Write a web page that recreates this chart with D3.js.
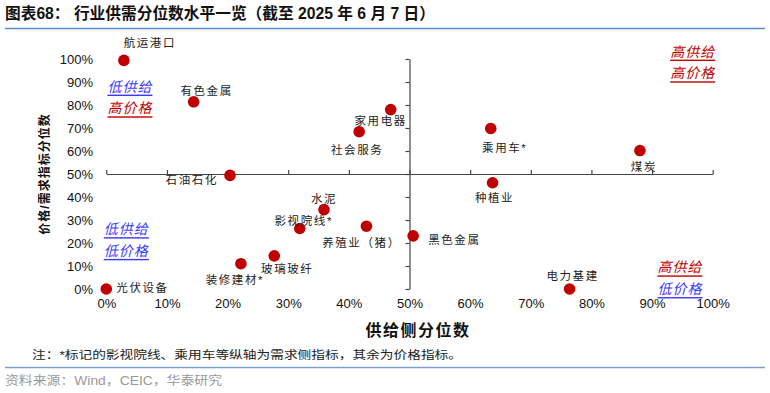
<!DOCTYPE html>
<html><head><meta charset="utf-8">
<script src="https://cdn.jsdelivr.net/npm/d3@7"></script>
<style>
body{margin:0;background:#fff;}
svg{display:block;}
text{font-family:"Liberation Sans","Noto Sans CJK SC",sans-serif;}
</style></head>
<body><svg id="c" width="770" height="393"></svg>
<script>
// ---- data ----
const industries = ["航运港口","有色金属","石油石化","光伏设备","装修建材*","玻璃玻纤","影视院线*","水泥","养殖业（猪）","黑色金属","家用电器","社会服务","乘用车*","种植业","煤炭","电力基建"];
const supplyPct  = [0.029,0.144,0.204,0.000,0.222,0.277,0.319,0.359,0.429,0.506,0.469,0.417,0.634,0.637,0.880,0.764];
const pricePct   = [0.994,0.814,0.494,0.000,0.110,0.144,0.263,0.345,0.273,0.231,0.780,0.684,0.698,0.462,0.602,0.000];
const tickValues = [0,0.1,0.2,0.3,0.4,0.5,0.6,0.7,0.8,0.9,1.0];
// label placement (layout only): [dx, dy, anchor]
const labelPlace = [[26,-17,"middle"],[13,-11,"middle"],[-12,5,"end"],[10,-1,"start"],[-6,16,"middle"],[13,13,"middle"],[4,-8,"middle"],[0,-11,"middle"],[-5,17,"middle"],[15,4,"start"],[-10,11,"middle"],[-2,18,"middle"],[14,20,"middle"],[2,15,"middle"],[4,16,"middle"],[3,-13,"middle"]];
const quadrants = [
  {x:0.039,y:0.880,lines:[["低供给","#3a3aff"],["高价格","#c00000"]]},
  {x:0.033,y:0.260,lines:[["低供给","#3a3aff"],["低价格","#3a3aff"]]},
  {x:0.967,y:1.032,lines:[["高供给","#c00000"],["高价格","#c00000"]]},
  {x:0.946,y:0.094,lines:[["高供给","#c00000"],["低价格","#3a3aff"]]}
];

const svg = d3.select("#c");
const x = d3.scaleLinear().domain([0,1]).range([106.3,712.7]);
const y = d3.scaleLinear().domain([0,1]).range([289,59]);
const pct = d3.format(".0%");

// title
svg.append("text").attr("x",5).attr("y",19).attr("font-size",16).attr("font-weight","bold")
  .attr("fill","#111").attr("textLength",430).attr("lengthAdjust","spacingAndGlyphs")
  .text("图表68：  行业供需分位数水平一览（截至 2025 年 6 月 7 日）");
svg.append("line").attr("x1",5).attr("x2",765).attr("y1",28.5).attr("y2",28.5)
  .attr("stroke","#5b8ccc").attr("stroke-width",1.5);

// crossing axes
const gV = svg.append("g").attr("transform",`translate(${x(0.5)},0)`)
  .call(d3.axisLeft(y).tickValues(tickValues).tickFormat("").tickSize(4).tickSizeOuter(0));
const gH = svg.append("g").attr("transform",`translate(0,${y(0.5)})`)
  .call(d3.axisTop(x).tickValues(tickValues).tickFormat("").tickSize(4).tickSizeOuter(0));
[gV,gH].forEach(g=>{g.selectAll("path,line").attr("stroke","#444").attr("stroke-width",1.2);});

// tick labels
const gL = svg.append("g").attr("transform","translate(93,0)")
  .call(d3.axisLeft(y).tickValues(tickValues).tickFormat(pct).tickSize(0));
gL.select(".domain").remove();
gL.selectAll("text").attr("font-size",13).attr("fill","#111").attr("x",0)
  .attr("font-family","Liberation Sans, Arial, sans-serif");
const gB = svg.append("g").attr("transform","translate(0,299)")
  .call(d3.axisBottom(x).tickValues(tickValues).tickFormat(pct).tickSize(0));
gB.select(".domain").remove();
gB.selectAll("text").attr("font-size",13).attr("fill","#111").attr("dy","0.71em").attr("y",0)
  .attr("font-family","Liberation Sans, Arial, sans-serif");

// axis titles
svg.append("text").attr("x",418).attr("y",336).attr("text-anchor","middle").attr("font-size",16)
  .attr("font-weight","bold").attr("fill","#111").attr("font-family","Noto Sans CJK SC")
  .attr("letter-spacing",1.5).text("供给侧分位数");
svg.append("text").attr("transform",`translate(49,${y(0.5)}) rotate(-90)`).attr("text-anchor","middle")
  .attr("font-size",12).attr("font-weight","bold").attr("fill","#111").attr("font-family","Noto Sans CJK SC")
  .attr("letter-spacing",1).text("价格/需求指标分位数");

// quadrant annotations
quadrants.forEach(q=>{
  q.lines.forEach((l,i)=>{
    svg.append("text").attr("x",x(q.x)).attr("y",y(q.y)+i*21.7).attr("text-anchor","middle")
      .attr("dominant-baseline","central").attr("font-size",14).attr("font-style","italic")
      .attr("font-family","Noto Sans CJK SC").attr("letter-spacing",1)
      .attr("text-decoration","underline").attr("fill",l[1]).text(l[0]);
  });
});

// points
svg.append("g").selectAll("circle").data(industries).join("circle")
  .attr("cx",(d,i)=>x(supplyPct[i])).attr("cy",(d,i)=>y(pricePct[i])).attr("r",5.8)
  .attr("fill","#c00000");

// labels
svg.append("g").selectAll("text").data(industries).join("text")
  .attr("x",(d,i)=>x(supplyPct[i])+labelPlace[i][0])
  .attr("y",(d,i)=>y(pricePct[i])+labelPlace[i][1])
  .attr("text-anchor",(d,i)=>labelPlace[i][2])
  .attr("dominant-baseline","central")
  .attr("font-size",11.5).attr("letter-spacing",1.6).attr("fill","#222")
  .attr("font-family","Noto Sans CJK SC")
  .text(d=>d);

// note & source
svg.append("text").attr("x",32).attr("y",355).attr("dominant-baseline","central").attr("font-size",11.5)
  .attr("fill","#222").attr("font-family","Noto Sans CJK SC").attr("textLength",430).attr("lengthAdjust","spacingAndGlyphs")
  .text("注：*标记的影视院线、乘用车等纵轴为需求侧指标，其余为价格指标。");
svg.append("line").attr("x1",5).attr("x2",765).attr("y1",367.5).attr("y2",367.5)
  .attr("stroke","#7f9fcf").attr("stroke-width",1.5);
svg.append("text").attr("x",5).attr("y",381).attr("dominant-baseline","central").attr("font-size",12)
  .attr("fill","#999").attr("textLength",217).attr("lengthAdjust","spacingAndGlyphs")
  .text("资料来源：Wind，CEIC，华泰研究");
</script></body></html>
